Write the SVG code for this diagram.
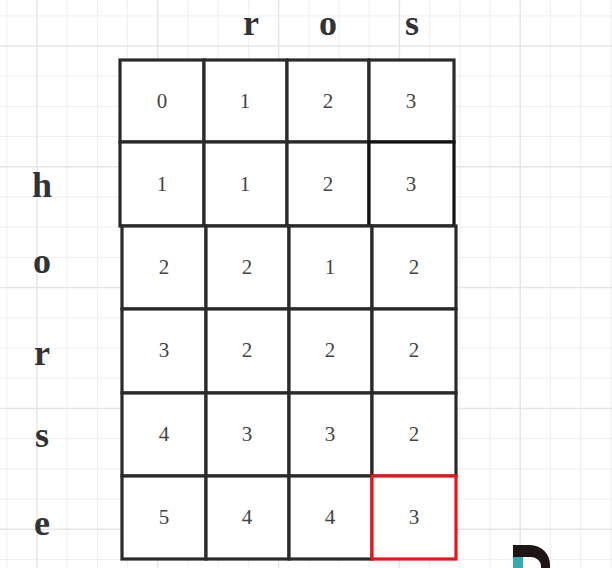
<svg xmlns="http://www.w3.org/2000/svg" width="612" height="568" viewBox="0 0 612 568">
<defs>
<style>
.minor{stroke:#efefef;stroke-width:1}
.major{stroke:#e6e6e6;stroke-width:1.5}
.cell{fill:#fff;stroke:#2a2a2a;stroke-width:3.2}
.cell.dark{stroke:#111}
.cell.hl{stroke:#e8151b}
.num{font-family:"Liberation Serif","Times New Roman",serif;font-size:21px;fill:#444;text-anchor:middle}
.lbl{font-family:"Liberation Serif","Times New Roman",serif;font-size:36px;font-weight:bold;fill:#333;text-anchor:middle}
</style>
</defs>
<rect x="0" y="0" width="612" height="568" fill="#fff"/>
<g id="grid">
<g class="minor">
<line x1="6.8" y1="0" x2="6.8" y2="568"/><line x1="67.2" y1="0" x2="67.2" y2="568"/><line x1="97.4" y1="0" x2="97.4" y2="568"/><line x1="127.6" y1="0" x2="127.6" y2="568"/>
<line x1="188" y1="0" x2="188" y2="568"/><line x1="218.2" y1="0" x2="218.2" y2="568"/><line x1="248.4" y1="0" x2="248.4" y2="568"/>
<line x1="308.8" y1="0" x2="308.8" y2="568"/><line x1="339" y1="0" x2="339" y2="568"/><line x1="369.2" y1="0" x2="369.2" y2="568"/>
<line x1="429.6" y1="0" x2="429.6" y2="568"/><line x1="459.8" y1="0" x2="459.8" y2="568"/><line x1="490" y1="0" x2="490" y2="568"/>
<line x1="550.4" y1="0" x2="550.4" y2="568"/><line x1="580.6" y1="0" x2="580.6" y2="568"/><line x1="610.8" y1="0" x2="610.8" y2="568"/>
<line x1="0" y1="15.8" x2="612" y2="15.8"/><line x1="0" y1="76.2" x2="612" y2="76.2"/><line x1="0" y1="106.4" x2="612" y2="106.4"/><line x1="0" y1="136.6" x2="612" y2="136.6"/>
<line x1="0" y1="197" x2="612" y2="197"/><line x1="0" y1="227.2" x2="612" y2="227.2"/><line x1="0" y1="257.4" x2="612" y2="257.4"/>
<line x1="0" y1="317.8" x2="612" y2="317.8"/><line x1="0" y1="348" x2="612" y2="348"/><line x1="0" y1="378.2" x2="612" y2="378.2"/>
<line x1="0" y1="438.6" x2="612" y2="438.6"/><line x1="0" y1="468.8" x2="612" y2="468.8"/><line x1="0" y1="499" x2="612" y2="499"/>
<line x1="0" y1="559.4" x2="612" y2="559.4"/>
</g>
<g class="major">
<line x1="37" y1="0" x2="37" y2="568"/><line x1="157.8" y1="0" x2="157.8" y2="568"/><line x1="278.6" y1="0" x2="278.6" y2="568"/><line x1="399.4" y1="0" x2="399.4" y2="568"/><line x1="520.2" y1="0" x2="520.2" y2="568"/>
<line x1="0" y1="46" x2="612" y2="46"/><line x1="0" y1="166.8" x2="612" y2="166.8"/><line x1="0" y1="287.6" x2="612" y2="287.6"/><line x1="0" y1="408.4" x2="612" y2="408.4"/><line x1="0" y1="529.2" x2="612" y2="529.2"/>
</g>
</g>
<g id="col-labels">
<text class="lbl" x="251" y="35">r</text>
<text class="lbl" x="328" y="35">o</text>
<text class="lbl" x="412" y="35">s</text>
</g>
<g id="row-labels">
<text class="lbl" x="42" y="197">h</text>
<text class="lbl" x="42" y="273">o</text>
<text class="lbl" x="42" y="365">r</text>
<text class="lbl" x="42" y="447">s</text>
<text class="lbl" x="42" y="535">e</text>
</g>
<g id="row0">
<g id="c00"><rect class="cell" x="120" y="60" width="84" height="82"/><text class="num" x="162" y="108">0</text></g>
<g id="c01"><rect class="cell" x="204" y="60" width="83" height="82"/><text class="num" x="245" y="108">1</text></g>
<g id="c02"><rect class="cell" x="287" y="60" width="82" height="82"/><text class="num" x="328" y="108">2</text></g>
<g id="c03"><rect class="cell" x="369" y="60" width="85" height="82"/><text class="num" x="411" y="108">3</text></g>
</g>
<g id="row1">
<g id="c10"><rect class="cell" x="120" y="142" width="84" height="84"/><text class="num" x="162" y="191">1</text></g>
<g id="c11"><rect class="cell" x="204" y="142" width="83" height="84"/><text class="num" x="245" y="191">1</text></g>
<g id="c12"><rect class="cell" x="287" y="142" width="82" height="84"/><text class="num" x="328" y="191">2</text></g>
<g id="c13"><rect class="cell dark" x="369" y="142" width="85" height="84"/><text class="num" x="411" y="191">3</text></g>
</g>
<g id="row2">
<g id="c20"><rect class="cell" x="122" y="226" width="84" height="83"/><text class="num" x="164" y="274">2</text></g>
<g id="c21"><rect class="cell" x="206" y="226" width="83" height="83"/><text class="num" x="247" y="274">2</text></g>
<g id="c22"><rect class="cell" x="289" y="226" width="83" height="83"/><text class="num" x="330" y="274">1</text></g>
<g id="c23"><rect class="cell" x="372" y="226" width="84" height="83"/><text class="num" x="414" y="274">2</text></g>
</g>
<g id="row3">
<g id="c30"><rect class="cell" x="122" y="309" width="84" height="84"/><text class="num" x="164" y="357">3</text></g>
<g id="c31"><rect class="cell" x="206" y="309" width="83" height="84"/><text class="num" x="247" y="357">2</text></g>
<g id="c32"><rect class="cell" x="289" y="309" width="83" height="84"/><text class="num" x="330" y="357">2</text></g>
<g id="c33"><rect class="cell" x="372" y="309" width="84" height="84"/><text class="num" x="414" y="357">2</text></g>
</g>
<g id="row4">
<g id="c40"><rect class="cell" x="122" y="393" width="84" height="83"/><text class="num" x="164" y="441">4</text></g>
<g id="c41"><rect class="cell" x="206" y="393" width="83" height="83"/><text class="num" x="247" y="441">3</text></g>
<g id="c42"><rect class="cell" x="289" y="393" width="83" height="83"/><text class="num" x="330" y="441">3</text></g>
<g id="c43"><rect class="cell" x="372" y="393" width="84" height="83"/><text class="num" x="414" y="441">2</text></g>
</g>
<g id="row5">
<g id="c50"><rect class="cell" x="122" y="476" width="84" height="83"/><text class="num" x="164" y="524">5</text></g>
<g id="c51"><rect class="cell" x="206" y="476" width="83" height="83"/><text class="num" x="247" y="524">4</text></g>
<g id="c52"><rect class="cell" x="289" y="476" width="83" height="83"/><text class="num" x="330" y="524">4</text></g>
<g id="c53"><rect class="cell hl" x="372" y="476" width="84" height="83"/><text class="num" x="414" y="524">3</text></g>
</g>
<g id="connectors"/>
<g id="logo">
<path d="M513 545 H530 A20 20 0 0 1 550 565 V568 H541 V566 A10 9 0 0 0 531 557 H513 Z" fill="#1e1614"/>
<rect x="513" y="557" width="10" height="11" fill="#3aa8ad"/>
</g>
</svg>
